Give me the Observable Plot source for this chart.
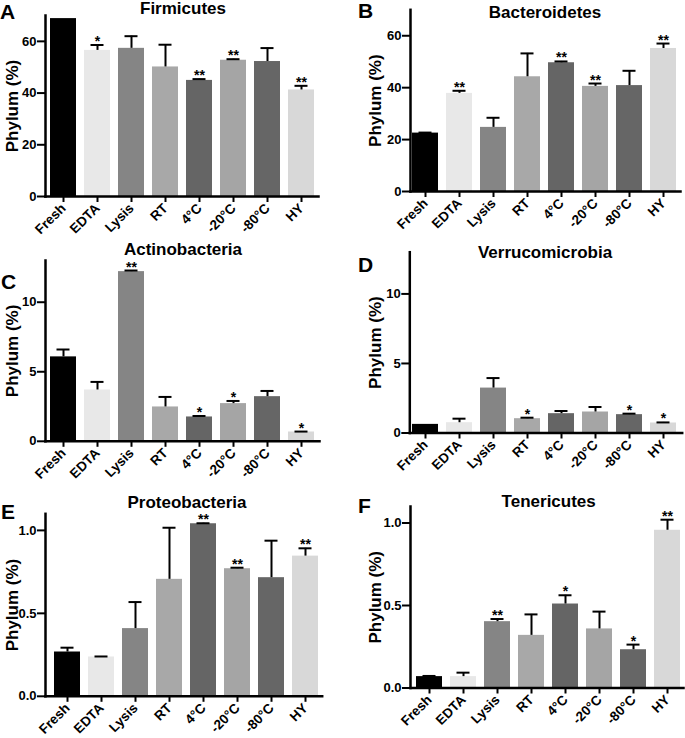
<!DOCTYPE html>
<html><head><meta charset="utf-8">
<script src="https://cdn.jsdelivr.net/npm/d3@7"></script>
<script src="https://cdn.jsdelivr.net/npm/@observablehq/plot@0.6"></script>
<style>
body{margin:0;background:#fff;}
#wrap{position:relative;width:685px;height:738px;overflow:hidden;font-family:"Liberation Sans",Arial,Helvetica,sans-serif;color:#000;}
.panel{position:absolute;}
.lbl{position:absolute;font-weight:bold;white-space:nowrap;}
</style></head><body><div id="wrap"></div>
<script>
// ---- data ----
const categories = ["Fresh","EDTA","Lysis","RT","4°C","-20°C","-80°C","HY"];
const barColors = ["#000000","#e8e8e8","#858585","#a8a8a8","#656565","#a5a5a5","#666666","#d8d8d8"];

const firmicutesMean = [68.8, 56.5, 57.3, 50.1, 44.9, 52.7, 52.2, 41.2];
const firmicutesErr  = [0, 2.1, 4.7, 8.6, 0.5, 0.4, 5.2, 1.6];
const firmicutesSig  = ["","*","","","**","**","","**"];

const bacteroidetesMean = [22.5, 37.8, 24.7, 44.2, 49.6, 40.5, 40.8, 55.1];
const bacteroidetesErr  = [0.2, 1.0, 3.7, 9.0, 0.5, 1.1, 5.7, 1.9];
const bacteroidetesSig  = ["","**","","","**","**","","**"];

const actinobacteriaMean = [6.07, 3.69, 12.2, 2.47, 1.75, 2.71, 3.21, 0.67];
const actinobacteriaErr  = [0.53, 0.58, 0.08, 0.72, 0.07, 0.19, 0.41, 0.03];
const actinobacteriaSig  = ["","","**","","*","*","","*"];

const verrucomicrobiaMean = [0.62, 0.74, 3.23, 1.03, 1.39, 1.51, 1.32, 0.72];
const verrucomicrobiaErr  = [0, 0.29, 0.72, 0.07, 0.19, 0.36, 0.07, 0.04];
const verrucomicrobiaSig  = ["","","","*","","","*","*"];

const proteobacteriaMean = [0.267, 0.237, 0.408, 0.705, 1.04, 0.769, 0.715, 0.845];
const proteobacteriaErr  = [0.026, 0.003, 0.16, 0.311, 0.003, 0.006, 0.223, 0.047];
const proteobacteriaSig  = ["","","","","**","**","","**"];

const tenericutesMean = [0.069, 0.069, 0.402, 0.319, 0.509, 0.358, 0.232, 0.956];
const tenericutesErr  = [0.004, 0.024, 0.016, 0.127, 0.053, 0.105, 0.031, 0.064];
const tenericutesSig  = ["","","**","","*","","*","**"];

const ticksTens = [0, 20, 40, 60];
const ticksFives = [0, 5, 10];
const ticksHalves = [0, 0.5, 1.0];
const yLabel = "Phylum (%)";

// ---- layout ----
const FONT = '"Liberation Sans", Arial, Helvetica, sans-serif';
const panels = [
  {letter:"A", title:"Firmicutes", mean:firmicutesMean, err:firmicutesErr, sig:firmicutesSig,
   yDomain:[0,70], yTicks:ticksTens, fmt:d3.format("d"),
   left:0, top:0, width:330, height:240, mt:15, mb:44, ml:45, mr:12, xr:[45.4,318.8],
   labelDx:-32.5, titleX:183, titleY:15, letterX:0, letterY:19.5},
  {letter:"B", title:"Bacteroidetes", mean:bacteroidetesMean, err:bacteroidetesErr, sig:bacteroidetesSig,
   yDomain:[0,70], yTicks:ticksTens, fmt:d3.format("d"),
   left:340, top:0, width:345, height:240, mt:9.3, mb:49, ml:70, mr:5, xr:[67.4,341.1],
   labelDx:-35, titleX:545, titleY:18.3, letterX:358, letterY:19},
  {letter:"C", title:"Actinobacteria", mean:actinobacteriaMean, err:actinobacteriaErr, sig:actinobacteriaSig,
   yDomain:[0,13], yTicks:ticksFives, fmt:d3.format("d"),
   left:0, top:240, width:330, height:240, mt:20, mb:39.2, ml:45, mr:11, xr:[45.4,318.8],
   labelDx:-32.5, titleX:183, titleY:256, letterX:1, letterY:290},
  {letter:"D", title:"Verrucomicrobia", mean:verrucomicrobiaMean, err:verrucomicrobiaErr, sig:verrucomicrobiaSig,
   yDomain:[0,13], yTicks:ticksFives, fmt:d3.format("d"),
   left:340, top:240, width:345, height:240, mt:11.7, mb:47.5, ml:69.3, mr:3.3, xr:[67.4,341.1],
   labelDx:-34.3, titleX:545, titleY:258.3, letterX:358, letterY:273},
  {letter:"E", title:"Proteobacteria", mean:proteobacteriaMean, err:proteobacteriaErr, sig:proteobacteriaSig,
   yDomain:[0,1.1], yTicks:ticksHalves, fmt:d3.format(".1f"),
   left:0, top:480, width:330, height:258, mt:33.3, mb:42.2, ml:45, mr:8.3, xr:[49.9,322.9],
   labelDx:-32.5, titleX:187, titleY:508.3, letterX:1, letterY:520},
  {letter:"F", title:"Tenericutes", mean:tenericutesMean, err:tenericutesErr, sig:tenericutesSig,
   yDomain:[0,1.1], yTicks:ticksHalves, fmt:d3.format(".1f"),
   left:340, top:480, width:345, height:258, mt:26, mb:50.5, ml:70, mr:2, xr:[70.4,344.6],
   labelDx:-35, titleX:548.7, titleY:507.3, letterX:358, letterY:514}
];

const wrap = document.getElementById("wrap");

// line-height 0.8em: baseline sits 0.7465em below the box top (Liberation Sans metrics)
function addText(txt, x, baseline, fs, center) {
  const d = document.createElement("div");
  d.className = "lbl";
  d.textContent = txt;
  d.style.fontSize = fs + "px";
  d.style.lineHeight = (0.8 * fs) + "px";
  d.style.top = (baseline - 0.7465 * fs) + "px";
  d.style.left = x + "px";
  if (center) d.style.transform = "translateX(-50%)";
  wrap.appendChild(d);
}

for (const p of panels) {
  const data = categories.map((c, i) => ({
    cat: c, mean: p.mean[i], err: p.err[i], top: p.mean[i] + p.err[i], sig: p.sig[i], color: barColors[i]
  }));
  const withErr = data.filter(d => d.err > 0);
  const chart = Plot.plot({
    width: p.width, height: p.height,
    marginTop: p.mt, marginBottom: p.mb, marginLeft: p.ml, marginRight: p.mr,
    style: {background: "transparent", overflow: "visible", fontFamily: FONT, fontWeight: "bold", color: "#000"},
    x: {domain: categories, range: p.xr, paddingInner: 0.24, paddingOuter: 0.12, label: null},
    y: {domain: p.yDomain, label: null},
    color: {type: "identity"},
    marks: [
      Plot.barY(data, {x: "cat", y: "mean", fill: "color"}),
      Plot.ruleX(withErr, {x: "cat", y1: "mean", y2: "top", stroke: "#000", strokeWidth: 2}),
      Plot.tickY(withErr, {x: "cat", y: "top", stroke: "#000", strokeWidth: 2, insetLeft: 6.5, insetRight: 6.5}),
      Plot.text(data.filter(d => d.sig), {x: "cat", y: "top", text: "sig", fontSize: 14, lineAnchor: "bottom", dy: 1, fill: "#000"}),
      Plot.frame({anchor: "left", stroke: "#000", strokeWidth: 2.5}),
      Plot.frame({anchor: "bottom", stroke: "#000", strokeWidth: 2.5}),
      Plot.axisY({ticks: p.yTicks, tickFormat: p.fmt, tickSize: 8, tickPadding: 1, fontSize: 13, strokeWidth: 2, label: null}),
      Plot.axisX({tickSize: 6, tickPadding: 3.5, tickRotate: -45, fontSize: 13.5, strokeWidth: 2, label: null}),
      Plot.text([yLabel], {frameAnchor: "left", rotate: -90, dx: p.labelDx, textAnchor: "middle", lineAnchor: "middle", fontSize: 17, fill: "#000"})
    ]
  });
  const holder = document.createElement("div");
  holder.className = "panel";
  holder.style.left = p.left + "px";
  holder.style.top = p.top + "px";
  holder.style.width = p.width + "px";
  holder.style.height = p.height + "px";
  holder.appendChild(chart);
  wrap.appendChild(holder);
  addText(p.title, p.titleX, p.titleY, 17, true);
  addText(p.letter, p.letterX, p.letterY, 21, false);
}
</script></body></html>
